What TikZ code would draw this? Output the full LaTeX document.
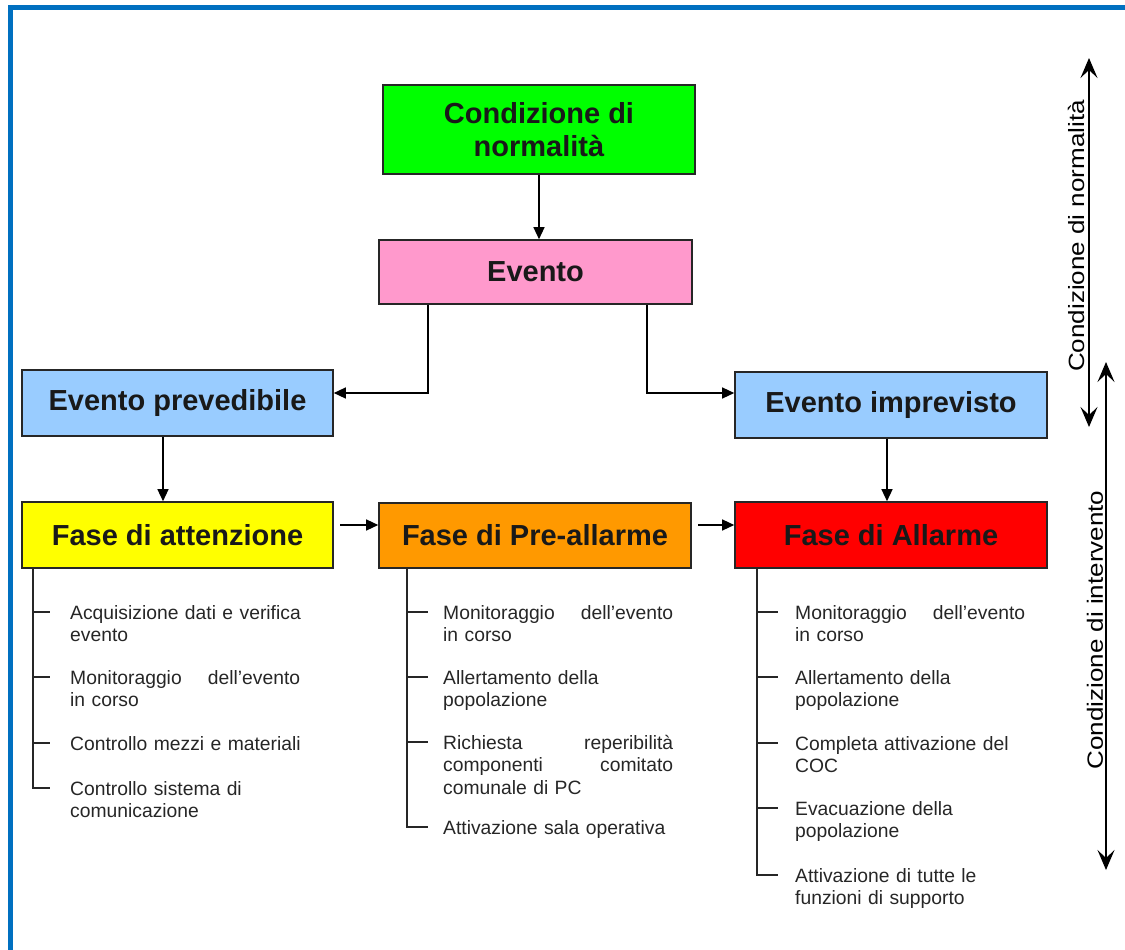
\documentclass[tikz,border=0pt]{standalone}
\usepackage{fontspec}
\setmainfont{Liberation Sans}
\usetikzlibrary{arrows.meta}
\definecolor{frameblue}{RGB}{0,112,192}
\definecolor{boxgreen}{RGB}{0,255,0}
\definecolor{boxpink}{RGB}{255,153,204}
\definecolor{boxblue}{RGB}{153,204,255}
\definecolor{boxyellow}{RGB}{255,255,0}
\definecolor{boxorange}{RGB}{255,153,0}
\definecolor{boxred}{RGB}{255,0,0}
\hyphenpenalty=10000
\exhyphenpenalty=10000
\newcommand{\ftl}{\rule{0pt}{18pt}}
\newcommand{\spread}[1]{\leavevmode\hbox to 230pt{#1}}
\begin{document}
\begin{tikzpicture}[x=1pt,y=-1pt,
  box/.style={draw=black!85, line width=1.6pt, inner sep=0pt, font=\fontsize{29}{33}\selectfont\bfseries, align=center, text=black!90},
  conn/.style={line width=1.3pt, -{Triangle[length=12pt,width=11pt]}},
  tree/.style={line width=1.6pt, black!85},
  itemtext/.style={anchor=north west, inner sep=0pt, text width=250pt, align=left, font=\fontsize{19.3}{22.5}\selectfont, text=black!85},
  side/.style={line width=1.3pt, {Stealth[length=20pt,width=17pt,inset=8pt]}-{Stealth[length=20pt,width=17pt,inset=8pt]}},
  sidetext/.style={rotate=90, inner sep=0pt, font=\fontsize{26}{30}\selectfont}
]
\useasboundingbox (0,0) rectangle (1125,950);
\draw[line width=5pt, frameblue] (10.5,950) -- (10.5,7.5) -- (1125,7.5);

% boxes
\node[box, fill=boxgreen, minimum width=312pt, minimum height=89pt] (cn) at (539,129.5) {Condizione di\\normalità};
\node[box, fill=boxpink, minimum width=313pt, minimum height=64pt] (ev) at (535.5,272) {Evento};
\node[box, fill=boxblue, minimum width=311pt, minimum height=66pt] (pv) at (177.5,403) {Evento prevedibile};
\node[box, fill=boxblue, minimum width=312pt, minimum height=66pt] (ip) at (891,405) {Evento imprevisto};
\node[box, fill=boxyellow, minimum width=311pt, minimum height=66pt] (at) at (177.5,535) {Fase di attenzione};
\node[box, fill=boxorange, minimum width=312pt, minimum height=65pt] (pr) at (535,535.5) {Fase di Pre-allarme};
\node[box, fill=boxred, minimum width=312pt, minimum height=66pt] (al) at (891,535) {Fase di Allarme};

% connectors
\draw[conn] (cn.south) -- (cn.south |- ev.north);
\coordinate (el) at (428,393);
\coordinate (er) at (647,393);
\draw[conn] (el |- ev.south) -- (el) -- (el -| pv.east);
\draw[conn] (er |- ev.south) -- (er) -- (er -| ip.west);
\coordinate (pa) at (163,450);
\coordinate (ia) at (887,450);
\draw[conn] (pa |- pv.south) -- (pa |- at.north);
\draw[conn] (ia |- ip.south) -- (ia |- al.north);
\coordinate (h1) at (340,525);
\coordinate (h2) at (698,525);
\draw[conn] (h1) -- (h1 -| pr.west);
\draw[conn] (h2) -- (h2 -| al.west);

% side arrows
\coordinate (n1) at (1089,58);
\coordinate (n2) at (1089,427);
\draw[side] (n1) -- (n2);
\node[sidetext] (nt) at (1076,236) {\scalebox{1}[0.85]{Condizione di normalità}};
\coordinate (i1) at (1106,362);
\coordinate (i2) at (1106,870);
\draw[side] (i1) -- (i2);
\node[sidetext] (it) at (1095,630) {\scalebox{1}[0.85]{Condizione di intervento}};

% left tree
\coordinate (t1) at (33,0);
\draw[tree] (t1 |- at.south) -- (33,788) -- (50,788);
\draw[tree] (33,612) -- (50,612);
\draw[tree] (33,677) -- (50,677);
\draw[tree] (33,743) -- (50,743);
\node[itemtext] (a1) at (70,601) {\ftl Acquisizione dati e verifica\\evento};
\node[itemtext] (a2) at (70,666) {\ftl\spread{Monitoraggio\hfill dell'evento}\\in corso};
\node[itemtext] (a3) at (70,732) {\ftl Controllo mezzi e materiali};
\node[itemtext] (a4) at (70,777) {\ftl Controllo sistema di\\comunicazione};

% middle tree
\coordinate (t2) at (407,0);
\draw[tree] (t2 |- pr.south) -- (407,827) -- (428,827);
\draw[tree] (407,612) -- (428,612);
\draw[tree] (407,677) -- (428,677);
\draw[tree] (407,742) -- (428,742);
\node[itemtext] (b1) at (443,601) {\ftl\spread{Monitoraggio\hfill dell'evento}\\in corso};
\node[itemtext] (b2) at (443,666) {\ftl Allertamento della\\popolazione};
\node[itemtext] (b3) at (443,731) {\ftl\spread{Richiesta\hfill reperibilità}\\\spread{componenti\hfill comitato}\\comunale di PC};
\node[itemtext] (b4) at (443,816) {\ftl Attivazione sala operativa};

% right tree
\coordinate (t3) at (757,0);
\draw[tree] (t3 |- al.south) -- (757,875) -- (778,875);
\draw[tree] (757,612) -- (778,612);
\draw[tree] (757,677) -- (778,677);
\draw[tree] (757,743) -- (778,743);
\draw[tree] (757,808) -- (778,808);
\node[itemtext] (c1) at (795,601) {\ftl\spread{Monitoraggio\hfill dell'evento}\\in corso};
\node[itemtext] (c2) at (795,666) {\ftl Allertamento della\\popolazione};
\node[itemtext] (c3) at (795,732) {\ftl Completa attivazione del\\COC};
\node[itemtext] (c4) at (795,797) {\ftl Evacuazione della\\popolazione};
\node[itemtext] (c5) at (795,864) {\ftl Attivazione di tutte le\\funzioni di supporto};
\end{tikzpicture}
\end{document}
